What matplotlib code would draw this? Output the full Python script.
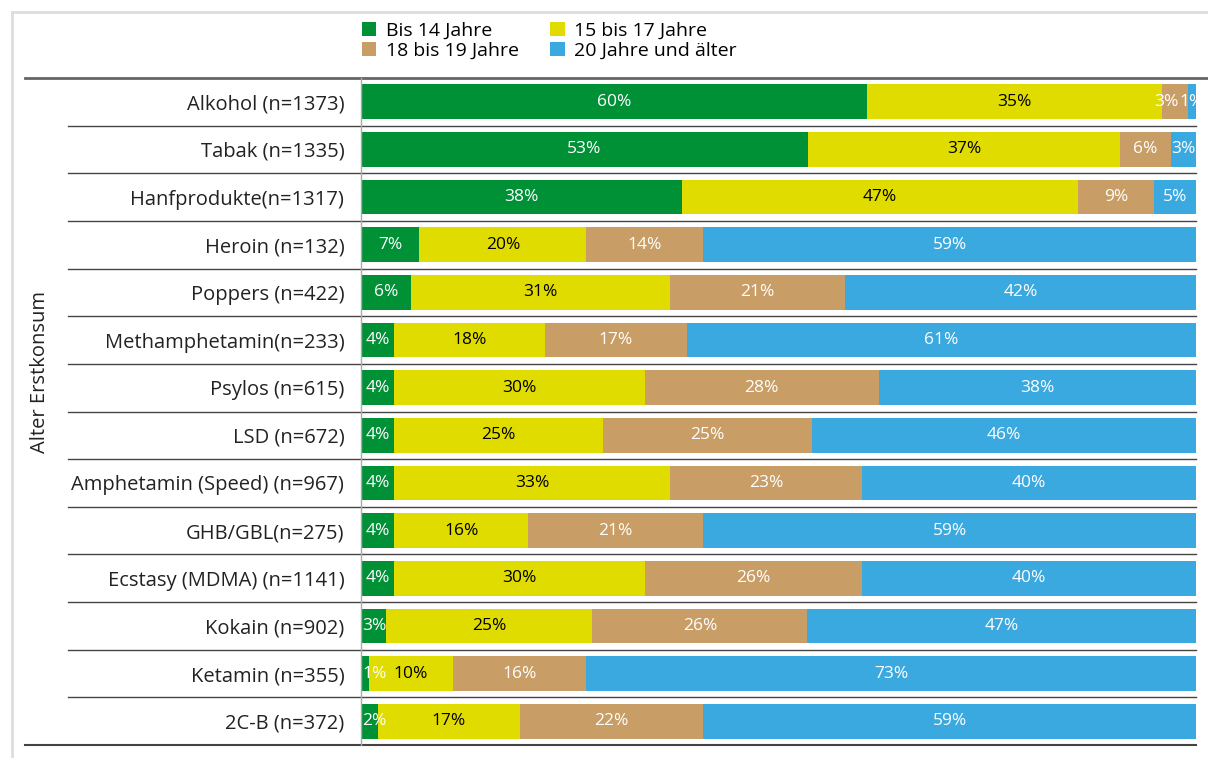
import numpy as np
import matplotlib
matplotlib.use("Agg")
import matplotlib.pyplot as plt
from matplotlib.lines import Line2D
from matplotlib.patches import Patch
import matplotlib.transforms as mtransforms

plt.rcParams['font.family'] = ['Open Sans', 'DejaVu Sans']

# Data (percent per age group of first use)
categories = ["Alkohol (n=1373)", "Tabak (n=1335)", "Hanfprodukte(n=1317)", "Heroin (n=132)",
              "Poppers (n=422)", "Methamphetamin(n=233)", "Psylos (n=615)", "LSD (n=672)",
              "Amphetamin (Speed) (n=967)", "GHB/GBL(n=275)", "Ecstasy (MDMA) (n=1141)",
              "Kokain (n=902)", "Ketamin (n=355)", "2C-B (n=372)"]
bis14 = [60, 53, 38, 7, 6, 4, 4, 4, 4, 4, 4, 3, 1, 2]
j15_17 = [35, 37, 47, 20, 31, 18, 30, 25, 33, 16, 30, 25, 10, 17]
j18_19 = [3, 6, 9, 14, 21, 17, 28, 25, 23, 21, 26, 26, 16, 22]
ab20 = [1, 3, 5, 59, 42, 61, 38, 46, 40, 59, 40, 47, 73, 59]
series_names = ["Bis 14 Jahre", "15 bis 17 Jahre", "18 bis 19 Jahre", "20 Jahre und älter"]
colors = ["#009036", "#e0dc00", "#c99d66", "#3aa9e0"]
text_colors = ["white", "black", "white", "white"]

W, H = 1208, 758
fig = plt.figure(figsize=(W / 100, H / 100), dpi=100)
ax = fig.add_axes([361 / W, 13 / H, 835 / W, 667 / H])

vals = np.array([bis14, j15_17, j18_19, ab20], dtype=float)
shares = vals / vals.sum(axis=0) * 100
y = np.arange(len(categories))
left = np.zeros(len(categories))
for i in range(4):
    ax.barh(y, shares[i], left=left, height=0.73, color=colors[i], edgecolor='none')
    for j in range(len(categories)):
        xc = left[j] + shares[i][j] / 2
        if i == 0:
            # small first segments: keep label inside the chart from the left edge
            xc = max(xc, 1.6)
        if shares[i][j] < 3.5 and i == 2:
            xc -= 1.0
        ax.text(xc, y[j], f"{int(vals[i][j])}%", ha='center', va='center',
                fontsize=12.5, color=text_colors[i])
    left += shares[i]

ax.set_xlim(0, 100)
ax.set_ylim(len(categories) - 0.5, -0.5)
ax.set_xticks([])
ax.set_yticks(y)
ax.set_yticklabels(categories, fontsize=14.5, color='#222222')
ax.tick_params(axis='y', length=0, pad=12)
for s in ['top', 'right', 'bottom']:
    ax.spines[s].set_visible(False)
ax.spines['left'].set_color('#aaaaaa')
ax.spines['left'].set_linewidth(1)

# row separators spanning into the label area
trans = mtransforms.blended_transform_factory(fig.transFigure, ax.transData)
for k in range(1, len(categories)):
    ax.add_line(Line2D([68 / W, 1196 / W], [k - 0.5, k - 0.5], transform=trans,
                       color='#444444', lw=1, clip_on=False))
ax.add_line(Line2D([25 / W, 1208 / W], [-0.5, -0.5], transform=trans,
                   color='#666666', lw=2, clip_on=False))
ax.add_line(Line2D([25 / W, 1196 / W], [len(categories) - 0.5] * 2, transform=trans,
                   color='#444444', lw=1.5, clip_on=False))

# light frame
fig.add_artist(Line2D([12 / W, 12 / W], [0, 1 - 12 / H], transform=fig.transFigure,
                      color='#dddddd', lw=2))
fig.add_artist(Line2D([12 / W, 1], [1 - 12 / H, 1 - 12 / H], transform=fig.transFigure,
                      color='#dddddd', lw=2))

fig.text(40 / W, 1 - 372 / H, "Alter Erstkonsum", rotation=90, ha='center', va='center',
         fontsize=14.5, color='#222222')

# legend filled row-wise like the reference
order = [0, 2, 1, 3]
handles = [Patch(facecolor=colors[k], edgecolor='none') for k in order]
labels = [series_names[k] for k in order]
fig.legend(handles, labels, loc='upper left', bbox_to_anchor=(354 / W, 1 - 14 / H),
           ncol=2, frameon=False, fontsize=14, handlelength=0.75, handleheight=0.75,
           handletextpad=0.5, columnspacing=1.6, labelspacing=0.12, borderaxespad=0)

fig.savefig("out.png", dpi=100)
